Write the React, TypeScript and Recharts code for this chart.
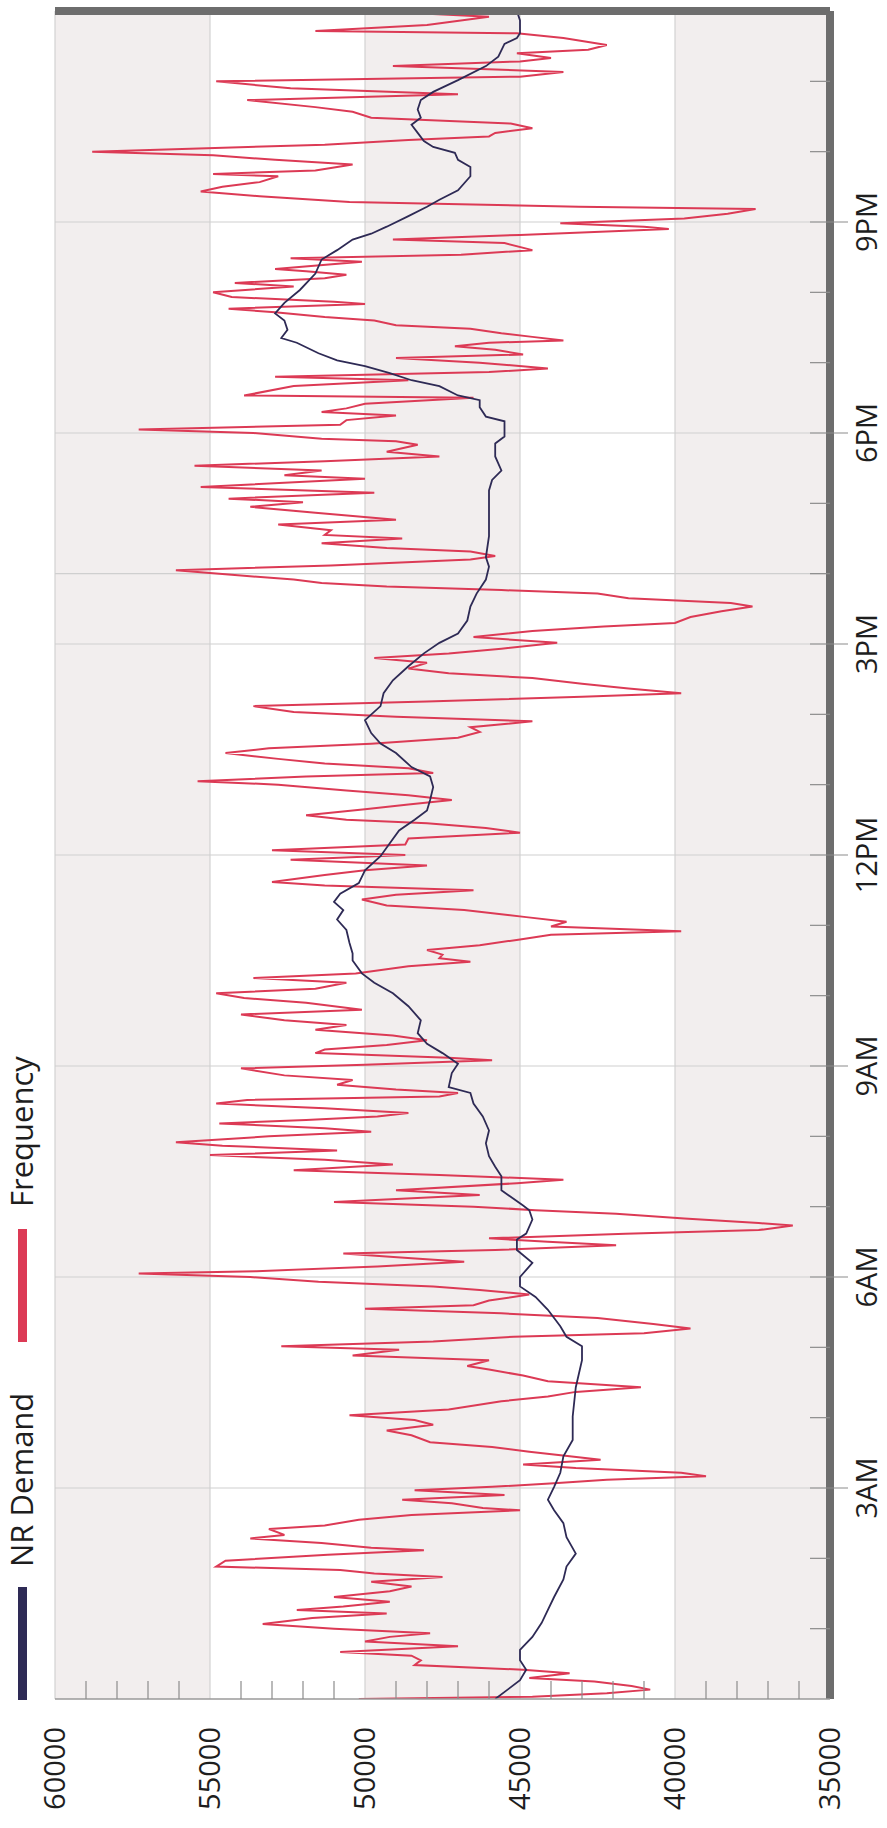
import React from "react";
import { Line, LineChart, ReferenceArea, ReferenceLine, XAxis, YAxis } from "recharts";

const FONT = "'Open Sans', 'DejaVu Sans', sans-serif";

const SERIES_NAMES = ["NR Demand", "Frequency"];
const SERIES_COLORS = ["#2e2a55", "#dc3a55"];

// time axis, minutes after midnight
const TIME_TICKS = [180, 360, 540, 720, 900, 1080, 1260];
const TIME_LABELS = ["3AM", "6AM", "9AM", "12PM", "3PM", "6PM", "9PM"];
const MINOR_TIME_TICKS = [0, 60, 120, 180, 240, 300, 360, 420, 480, 540, 600, 660, 720, 780, 840, 900, 960, 1020, 1080, 1140, 1200, 1260, 1320, 1380, 1440];

const VALUE_TICKS = [35000, 40000, 45000, 50000, 55000, 60000];
const MINOR_VALUE_TICKS = [
  35000, 36000, 37000, 38000, 39000, 40000, 41000, 42000, 43000, 44000, 45000, 46000, 47000,
  48000, 49000, 50000, 51000, 52000, 53000, 54000, 55000, 56000, 57000, 58000, 59000, 60000,
];
const SHADED_BANDS = [
  [55000, 60000],
  [45000, 50000],
  [35000, 40000],
];

const demandMinutes = [
  0, 8, 16, 25, 33, 42, 53, 65, 76, 87, 102, 113, 124, 138, 150, 161, 170, 181, 193, 207, 221, 241, 266, 289, 301,
  309, 318, 332, 343, 352, 360, 372, 383, 392, 397, 409, 417, 421, 434, 446, 454, 463, 474, 485, 497, 508, 517, 522,
  534, 542, 551, 559, 568, 579, 591, 602, 611, 619, 630, 636, 645, 656, 665, 673, 680, 687, 696, 707, 719, 730, 741,
  750, 758, 767, 778, 787, 795, 807, 815, 824, 835, 847, 858, 869, 881, 892, 901, 909, 920, 932, 943, 955, 966, 974,
  992, 1006, 1020, 1031, 1040, 1048, 1060, 1071, 1077, 1083, 1090, 1094, 1102, 1108, 1112, 1120, 1125, 1131, 1137,
  1142, 1148, 1157, 1161, 1168, 1176, 1182, 1191, 1202, 1216, 1228, 1236, 1245, 1250, 1256, 1265, 1273, 1279, 1287,
  1299, 1307, 1313, 1319, 1324, 1329, 1336, 1343, 1349, 1356, 1364, 1371, 1381, 1393, 1401, 1412, 1417, 1421, 1432,
  1440,
];
const demandValues = [
  45800, 45400, 45000, 44800, 45000, 45000, 44600, 44300, 44100, 43900, 43600, 43500, 43200, 43500, 43600, 43900,
  44100, 43900, 43700, 43600, 43300, 43300, 43200, 43000, 43000, 43500, 43700, 44100, 44500, 45000, 45000, 44600,
  45100, 45100, 44800, 44600, 44700, 44900, 45600, 45600, 45800, 46000, 46100, 46000, 46200, 46500, 46600, 47300,
  47200, 47000, 47500, 48000, 48300, 48200, 48600, 49100, 49700, 50100, 50400, 50400, 50500, 50600, 50900, 50700,
  51000, 50800, 50200, 50000, 49500, 49200, 48900, 48400, 48000, 47900, 47800, 47900, 48500, 49000, 49500, 49800,
  50000, 49500, 49400, 49100, 48600, 48100, 47600, 47000, 46700, 46600, 46400, 46100, 46000, 46100, 46000, 46000,
  46000, 46000, 45900, 45600, 45800, 45800, 45500, 45500, 45500, 46100, 46300, 46300, 47000, 47600, 48500, 49200,
  50000, 50900, 51500, 52200, 52700, 52500, 52600, 52900, 52600, 52100, 51600, 51400, 50900, 50400, 49800, 49300,
  48600, 48000, 47600, 47000, 46600, 46600, 47000, 47100, 47800, 48100, 48300, 48500, 48200, 48300, 48200, 47800,
  47000, 46100, 45700, 45500, 45100, 45000, 45000, 45100,
];

const freqMinutes = [
  0, 2, 5, 8, 11, 15, 18, 22, 25, 29, 33, 37, 40, 45, 49, 53, 56, 60, 64, 69, 73, 76, 79, 83, 87, 92, 96, 100, 104,
  107, 110, 113, 118, 123, 127, 129, 133, 137, 140, 145, 148, 153, 157, 161, 163, 167, 170, 174, 178, 181, 184, 187,
  190, 193, 197, 200, 204, 207, 211, 215, 219, 225, 229, 234, 238, 242, 247, 254, 258, 262, 266, 271, 276, 281, 284,
  289, 293, 298, 301, 305, 309, 312, 316, 320, 325, 329, 333, 336, 340, 345, 349, 352, 356, 360, 363, 365, 369, 373,
  376, 380, 383, 387, 390, 393, 397, 400, 404, 406, 410, 414, 417, 420, 424, 430, 434, 440, 443, 447, 451, 456, 460,
  464, 468, 472, 475, 480, 484, 487, 491, 494, 497, 500, 504, 508, 511, 514, 517, 520, 524, 528, 532, 538, 541, 545,
  547, 551, 554, 558, 562, 566, 571, 575, 579, 584, 588, 594, 598, 602, 606, 611, 615, 619, 625, 629, 632, 635, 639,
  643, 648, 652, 655, 659, 663, 667, 673, 677, 682, 686, 690, 694, 697, 703, 707, 711, 716, 720, 724, 729, 734, 739,
  743, 747, 750, 754, 759, 763, 767, 771, 775, 780, 783, 787, 790, 794, 798, 802, 807, 811, 815, 820, 825, 829, 834,
  838, 842, 847, 851, 855, 858, 862, 866, 871, 875, 879, 884, 888, 892, 896, 901, 906, 911, 915, 918, 923, 928, 932,
  935, 939, 943, 946, 949, 952, 955, 959, 963, 967, 972, 975, 979, 982, 986, 990, 993, 997, 1002, 1006, 1012, 1017,
  1021, 1024, 1029, 1034, 1041, 1044, 1048, 1052, 1056, 1060, 1064, 1070, 1073, 1075, 1080, 1083, 1087, 1091, 1095,
  1098, 1101, 1105, 1110, 1112, 1120, 1125, 1128, 1132, 1135, 1140, 1144, 1147, 1151, 1154, 1157, 1159, 1162, 1165,
  1169, 1172, 1176, 1179, 1183, 1186, 1190, 1192, 1196, 1200, 1205, 1208, 1212, 1215, 1218, 1220, 1226, 1229, 1232,
  1236, 1242, 1245, 1249, 1254, 1256, 1259, 1263, 1267, 1271, 1273, 1277, 1282, 1286, 1290, 1294, 1299, 1301, 1304,
  1309, 1313, 1317, 1320, 1326, 1330, 1333, 1336, 1340, 1344, 1349, 1354, 1358, 1364, 1369, 1374, 1380, 1384, 1388,
  1393, 1397, 1400, 1404, 1407, 1411, 1417, 1421, 1423, 1428, 1435, 1438, 1440,
];
const freqValues = [
  50200, 44600, 42200, 40800, 41400, 42600, 44700, 43400, 44900, 48400, 48200, 48500, 50800, 47000, 50000, 49200,
  47900, 51000, 53300, 51700, 49300, 52200, 50700, 49200, 51000, 49200, 48500, 49800, 47500, 49700, 50800, 54800,
  54500, 51200, 48100, 49800, 51400, 53700, 52600, 53100, 51300, 50200, 48500, 45000, 46200, 47200, 48800, 45500,
  48400, 45900, 43900, 42200, 39000, 39800, 43200, 44900, 42400, 43400, 44700, 45900, 47900, 48500, 49300, 47800,
  48400, 50500, 47300, 45600, 44100, 43200, 41100, 44100, 44900, 46000, 46700, 46000, 50400, 48900, 52700, 47800,
  45200, 41000, 39500, 40700, 42500, 45600, 50000, 46500, 46000, 44700, 46300, 47800, 51500, 53700, 57300, 53500,
  49600, 46800, 48500, 50700, 45800, 41900, 44100, 46000, 41600, 37300, 36200, 37300, 39700, 41900, 44500, 46500,
  51000, 46300, 49000, 45100, 43600, 47600, 52300, 49100, 51300, 55000, 50900, 54600, 56100, 53100, 49800, 51300,
  54700, 51900, 49600, 48600, 51300, 54800, 53800, 47600, 47000, 49000, 50900, 50400, 52600, 54000, 50000, 45900,
  47300, 51600, 51300, 49300, 48000, 49100, 51600, 50600, 52600, 54000, 50100, 51900, 53900, 54800, 51600, 50600,
  53600, 50300, 48600, 46600, 47600, 47500, 48000, 46300, 45000, 44000, 39800, 44000, 43500, 44800, 46800, 49300,
  50100, 49000, 46500, 51300, 53000, 51300, 50000, 48000, 52400, 48700, 53000, 48700, 48600, 45000, 46100, 48000,
  50600, 51900, 50000, 48600, 47200, 48600, 50600, 52800, 55400, 51900, 47800, 48600, 51300, 52800, 54500, 53100,
  49800, 47000, 46300, 46600, 44600, 49000, 52300, 53600, 48000, 43000, 39800, 41500, 43000, 44600, 47300, 48600,
  48000, 49700, 47300, 45600, 43800, 46500, 44600, 42300, 40000, 39500, 38500, 37500, 38200, 41500, 42500, 45600,
  49300, 51400, 52300, 54300, 56100, 51100, 46600, 45800, 46600, 49300, 51400, 48800, 51300, 51100, 52800, 49000,
  51600, 53700, 52000, 54400, 49700, 55300, 50000, 52600, 51400, 55500, 51300, 47600, 49300, 48300, 49000, 51400,
  53600, 57300, 50800, 50600, 49000, 51400, 50600, 50000, 46500, 53900, 52300, 48600, 52900, 46000, 44100, 46300,
  49000, 44900, 45800, 47100, 46000, 43600, 44600, 45600, 46600, 49000, 49700, 51300, 52900, 54400, 50000, 51000,
  54300, 54900, 52300, 54200, 51300, 50600, 51900, 52900, 50100, 52400, 46900, 44600, 45500, 49100, 45000, 40200,
  41000, 43700, 39700, 38300, 37400, 43100, 50500, 53400, 55300, 54600, 53400, 52800, 54900, 51600, 50400, 52900,
  54900, 58800, 51300, 48600, 46000, 45800, 44600, 45300, 49800, 50400, 51600, 53800, 47000, 52400, 54800, 45000,
  43600, 49100, 45000, 44000, 45100, 42800, 42200, 43600, 45100, 51600, 48000, 46000, 48300, 45600,
];

const demandData = demandMinutes.map((t, i) => ({ t, v: demandValues[i] }));
const freqData = freqMinutes.map((t, i) => ({ t, v: freqValues[i] }));

function TimeTick(props: any) {
  const { x, y, payload } = props;
  const m = payload.value;
  if (m <= 0 || m >= 1440) return <g />;
  const i = TIME_TICKS.indexOf(m);
  if (i < 0) {
    return <line x1={x} x2={x} y1={y - 20} y2={y} stroke="#8c8c8c" strokeWidth={1.2} />;
  }
  return (
    <g>
      <line x1={x} x2={x} y1={y - 20} y2={y + 18} stroke="#8c8c8c" strokeWidth={1.2} />
      <text x={x} y={y + 47} textAnchor="middle" fontFamily={FONT} fontSize={29} fill="#1e1e1e">
        {TIME_LABELS[i]}
      </text>
    </g>
  );
}

function ValueTick(props: any) {
  const { x, y, payload } = props;
  const v = payload.value;
  if (VALUE_TICKS.indexOf(v) < 0) {
    return <line x1={x} x2={x + 18} y1={y} y2={y} stroke="#8c8c8c" strokeWidth={1.2} />;
  }
  return (
    <text x={x - 28} y={y} dy="0.36em" textAnchor="end" fontFamily={FONT} fontSize={29} fill="#1e1e1e">
      {v}
    </text>
  );
}

export default function App() {
  const legendPos = [
    { marker: 128, text: 261 },
    { marker: 486, text: 621 },
  ];

  return (
    <div style={{ position: "absolute", left: 0, top: 0, width: 887, height: 1828, overflow: "hidden", background: "#fff" }}>
      <div
        style={{
          position: "absolute",
          left: 0,
          top: 0,
          width: 1828,
          height: 887,
          transformOrigin: "0 0",
          transform: "translate(0px, 1828px) rotate(-90deg)",
        }}
      >
        {SERIES_NAMES.map((name, i) => (
          <React.Fragment key={name}>
            <div
              style={{
                position: "absolute",
                left: legendPos[i].marker,
                top: 18,
                width: 113,
                height: 9,
                background: SERIES_COLORS[i],
              }}
            />
            <div
              style={{
                position: "absolute",
                left: legendPos[i].text,
                top: 6,
                fontFamily: FONT,
                fontSize: 31,
                lineHeight: "31px",
                color: "#1e1e1e",
                whiteSpace: "nowrap",
              }}
            >
              {name}
            </div>
          </React.Fragment>
        ))}

        <LineChart width={1828} height={887} margin={{ top: 55, right: 11, bottom: 0, left: 0 }}>
          {SHADED_BANDS.map(([a, b]) => (
            <ReferenceArea key={a} y1={a} y2={b} x1={0} x2={1440} fill="#f2eeee" fillOpacity={1} stroke="none" />
          ))}
          {VALUE_TICKS.map((v) => (
            <ReferenceLine key={v} y={v} stroke="#d2d2d2" strokeWidth={1.2} />
          ))}
          {TIME_TICKS.map((m) => (
            <ReferenceLine key={m} x={m} stroke="#d0d0d0" strokeWidth={1.2} />
          ))}
          <ReferenceLine x={960} stroke="#cfcfcf" strokeWidth={1.2} />
          <XAxis
            dataKey="t"
            type="number"
            domain={[0, 1440]}
            allowDataOverflow
            ticks={MINOR_TIME_TICKS}
            interval={0}
            height={57}
            tickSize={0}
            tickMargin={0}
            tickLine={false}
            tick={<TimeTick />}
            axisLine={{ stroke: "#6d6d6d", strokeWidth: 8 }}
          />
          <YAxis
            type="number"
            domain={[35000, 60000]}
            allowDataOverflow
            ticks={MINOR_VALUE_TICKS}
            interval={0}
            width={129}
            tickSize={0}
            tickMargin={0}
            tickLine={false}
            tick={<ValueTick />}
            axisLine={{ stroke: "#9a9a9a", strokeWidth: 1.5 }}
          />
          <Line
            data={freqData}
            dataKey="v"
            name={SERIES_NAMES[1]}
            type="linear"
            stroke={SERIES_COLORS[1]}
            strokeWidth={2}
            dot={false}
            isAnimationActive={false}
          />
          <Line
            data={demandData}
            dataKey="v"
            name={SERIES_NAMES[0]}
            type="linear"
            stroke={SERIES_COLORS[0]}
            strokeWidth={1.8}
            dot={false}
            isAnimationActive={false}
          />
          <ReferenceLine x={1440} stroke="#6d6d6d" strokeWidth={8} />
        </LineChart>
      </div>
    </div>
  );
}
